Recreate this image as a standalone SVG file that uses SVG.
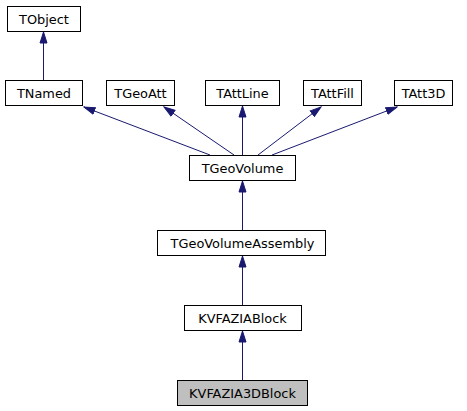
<svg xmlns="http://www.w3.org/2000/svg" width="467" height="411" viewBox="0 0 467 411">
<style>
.n rect{fill:#ffffff;stroke:#000000;stroke-width:1}
.n.cur rect{fill:#bfbfbf}
.n text{font-family:"DejaVu Sans","Liberation Sans",sans-serif;font-size:12.9px;text-anchor:middle;fill:#000000}
.e path{fill:none;stroke:#191970;stroke-width:1;marker-end:url(#ah)}
</style>
<defs>
<marker id="ah" markerUnits="userSpaceOnUse" markerWidth="13" markerHeight="9" viewBox="0 0 13 9" refX="11.5" refY="4.5" orient="auto">
<path d="M0.5,1 L11.5,4.5 L0.5,8 Z" fill="#191970" stroke="#191970" stroke-width="1"/>
</marker>
</defs>
<rect width="467" height="411" fill="#ffffff"/>
<g id="edges" class="e">
<path d="M43.5,80 L43.5,32"/>
<path d="M210,155 L84,107"/>
<path d="M234,155 L164,107"/>
<path d="M242.5,155 L242.5,106"/>
<path d="M258,155 L321,107"/>
<path d="M272,155 L397,107"/>
<path d="M242.5,230 L242.5,181"/>
<path d="M242.5,305 L242.5,256"/>
<path d="M242.5,380 L242.5,331"/>
</g>
<g id="TObject" class="n"><rect x="7.5" y="6.5" width="73" height="25"/><text x="44" y="23.5">TObject</text></g>
<g id="TNamed" class="n"><rect x="5.5" y="80.5" width="77" height="25"/><text x="44" y="97.5">TNamed</text></g>
<g id="TGeoAtt" class="n"><rect x="106.5" y="80.5" width="68" height="25"/><text x="140.5" y="97.5">TGeoAtt</text></g>
<g id="TAttLine" class="n"><rect x="205.5" y="80.5" width="74" height="25"/><text x="242.5" y="97.5">TAttLine</text></g>
<g id="TAttFill" class="n"><rect x="303.5" y="80.5" width="58" height="25"/><text x="332.5" y="97.5">TAttFill</text></g>
<g id="TAtt3D" class="n"><rect x="394.5" y="80.5" width="58" height="25"/><text x="423.5" y="97.5">TAtt3D</text></g>
<g id="TGeoVolume" class="n"><rect x="189.5" y="155.5" width="106" height="25"/><text x="242.5" y="172.5">TGeoVolume</text></g>
<g id="TGeoVolumeAssembly" class="n"><rect x="157.5" y="230.5" width="168" height="25"/><text x="242.5" y="247.5">TGeoVolumeAssembly</text></g>
<g id="KVFAZIABlock" class="n"><rect x="184.5" y="305.5" width="117" height="25"/><text x="242.5" y="322.5">KVFAZIABlock</text></g>
<g id="KVFAZIA3DBlock" class="n cur"><rect x="177.5" y="380.5" width="130" height="25"/><text x="242.5" y="397.5">KVFAZIA3DBlock</text></g>
</svg>
